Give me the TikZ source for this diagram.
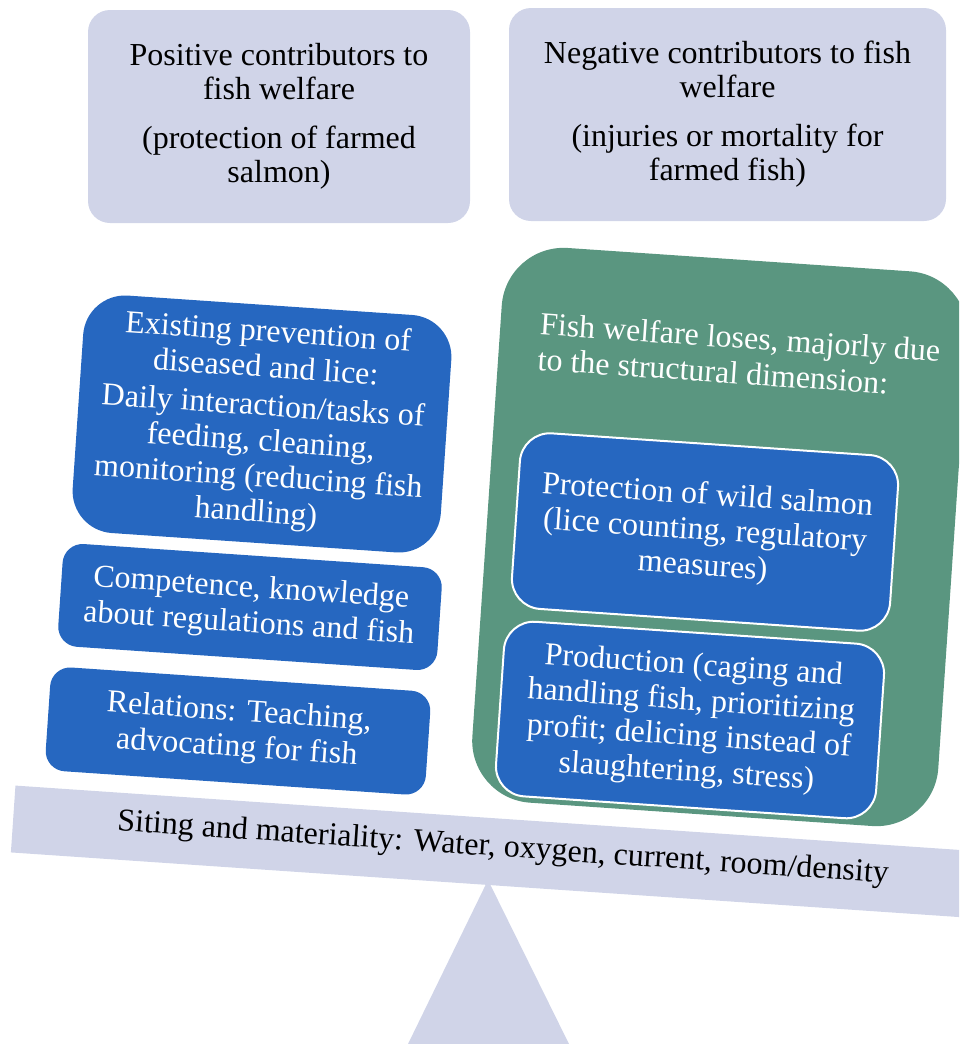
\documentclass[tikz,border=0pt]{standalone}
\usepackage{fontspec}
\setmainfont{Liberation Serif}
\definecolor{lav}{HTML}{D0D4E8}
\definecolor{bluebox}{HTML}{2667C0}
\definecolor{greenbox}{HTML}{5A9680}
\begin{document}
\begin{tikzpicture}[x=1pt,y=-1pt,
  txt/.style={font=\fontsize{32}{35.5}\selectfont, align=center, inner sep=0pt},
  topbox/.style={txt, fill=lav, rounded corners=22pt, minimum height=213pt, text=black,
    font=\fontsize{32}{34}\selectfont},
  tilt/.style={rotate=-3.9},
  bluepad/.style={txt, tilt, fill=bluebox, text=white},
  innerbox/.style={bluepad, draw=white, line width=2pt, rounded corners=30pt,
    minimum width=379pt, minimum height=176pt}]
\useasboundingbox (0,0) rectangle (959,1044);
\clip (0,0) rectangle (959,1044);

% top headers
\node[topbox, minimum width=382pt] (pos) at (279,116.5)
  {Positive contributors to\\fish welfare\\[15pt](protection of farmed\\salmon)};
\node[topbox, minimum width=437pt] (neg) at (727.5,114.5)
  {Negative contributors to fish\\welfare\\[15pt](injuries or mortality for\\farmed fish)};

% fulcrum
\coordinate (apex) at (488,880);
\coordinate (bl) at (408,1044);
\coordinate (br) at (569,1044);
\fill[lav] (apex) -- (bl) -- (br) -- cycle;

% beam
\node[tilt, fill=lav, minimum width=1000pt, minimum height=67pt, inner sep=0pt] (beam) at (512,853) {};
\node[txt, tilt] (beamtext) at (503,849)
  {Siting and materiality: Water, oxygen, current, room/density};

% left side (positive)
\node[bluepad, rounded corners=42pt, minimum width=369pt, minimum height=238pt] (prev) at (262,424)
  {Existing prevention of\\diseased and lice:\\[3pt]Daily interaction/tasks of\\feeding, cleaning,\\monitoring (reducing fish\\handling)};
\node[bluepad, rounded corners=20pt, minimum width=380pt, minimum height=103pt] (comp) at (250,607)
  {Competence, knowledge\\about regulations and fish};
\node[bluepad, rounded corners=20pt, minimum width=381pt, minimum height=104pt] (rel) at (238,731)
  {Relations: Teaching,\\advocating for fish};

% right side (negative)
\node[txt, tilt, fill=greenbox, rounded corners=62pt, minimum width=467pt, minimum height=556pt] (green) at (720,537) {};
\node[txt, tilt, text=white, align=left, anchor=north west] (gtitle) at (541,312)
  {Fish welfare loses, majorly due\\to the structural dimension:};
\node[innerbox] (wild) at (705,532)
  {Protection of wild salmon\\(lice counting, regulatory\\measures)};
\node[innerbox, minimum width=381pt, minimum height=175pt] (prod) at (690,720)
  {Production (caging and\\handling fish, prioritizing\\profit; delicing instead of\\slaughtering, stress)};
\end{tikzpicture}
\end{document}
